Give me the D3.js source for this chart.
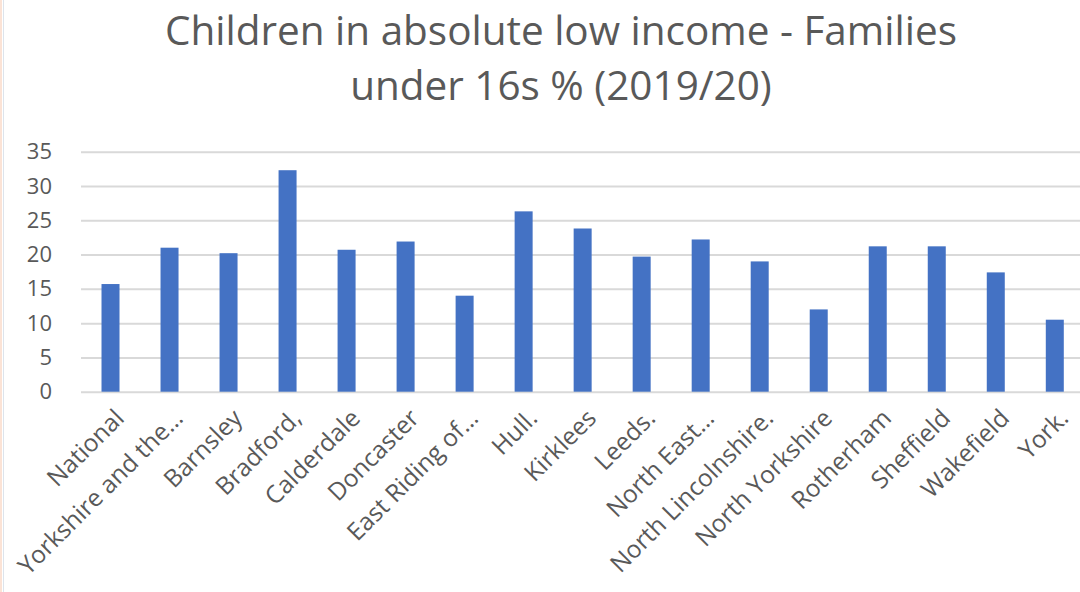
<!DOCTYPE html>
<html>
<head>
<meta charset="utf-8">
<script src="https://cdn.jsdelivr.net/npm/d3@7"></script>
<style>
  html, body { margin: 0; padding: 0; background: #ffffff; }
  svg { display: block; }
</style>
</head>
<body>
<svg id="chart" width="1080" height="592"></svg>
<script>
const titleLines = ["Children in absolute low income - Families", "under 16s % (2019/20)"];
const categories = ["National", "Yorkshire and the…", "Barnsley", "Bradford,", "Calderdale", "Doncaster",
  "East Riding of…", "Hull.", "Kirklees", "Leeds.", "North East…", "North Lincolnshire.",
  "North Yorkshire", "Rotherham", "Sheffield", "Wakefield", "York."];
const values = [15.7, 21.0, 20.2, 32.3, 20.7, 21.9, 14.0, 26.3, 23.8, 19.7, 22.2, 19.0, 12.0, 21.2, 21.2, 17.4, 10.5];
const yTicks = [0, 5, 10, 15, 20, 25, 30, 35];

const FONT = "'Open Sans', 'Noto Sans', sans-serif";
const TEXT = "#595959";
const svg = d3.select("#chart");

svg.append("rect").attr("x", 0).attr("y", 0).attr("width", 1080).attr("height", 592).attr("fill", "#ffffff");
svg.append("rect").attr("x", 0).attr("y", 0).attr("width", 2).attr("height", 592).attr("fill", "#fbe3d6");
svg.append("rect").attr("x", 3).attr("y", 0).attr("width", 1).attr("height", 592).attr("fill", "#dde4ec");

const plotLeft = 81, plotRight = 1084.3, y0 = 391.7, yTop = 151.7;
const x = d3.scaleBand().domain(categories).range([plotLeft, plotRight]).paddingInner(0.695).paddingOuter(0.3475);
const y = d3.scaleLinear().domain([0, 35]).range([y0, yTop]);

// gridlines + y labels
const yAxis = svg.append("g").attr("transform", `translate(${plotLeft},0)`)
  .call(d3.axisLeft(y).tickValues(yTicks).tickSizeInner(-(1080 - plotLeft)).tickSizeOuter(0).tickPadding(29).tickFormat(d3.format("d")));
yAxis.select(".domain").remove();
yAxis.selectAll(".tick line").attr("stroke", "#d9d9d9").attr("stroke-width", 2);
yAxis.selectAll(".tick text").attr("fill", TEXT).style("font-family", FONT).style("font-size", "22px");

// bars
svg.append("g").selectAll("rect").data(values).join("rect")
  .attr("x", (d, i) => x(categories[i]))
  .attr("width", x.bandwidth())
  .attr("y", d => y(d))
  .attr("height", d => y(0) - y(d))
  .attr("fill", "#4472c4");

// x labels
const xAxis = svg.append("g").attr("transform", `translate(0,${y0})`)
  .call(d3.axisBottom(x).tickSize(0).tickPadding(0));
xAxis.select(".domain").remove();
xAxis.selectAll(".tick text")
  .attr("fill", TEXT).style("font-family", FONT).style("font-size", "24.5px")
  .attr("text-anchor", "end")
  .attr("dy", "0.35em")
  .attr("transform", "translate(9,22) rotate(-45)");

// title
const title = svg.append("g");
const baselines = [45, 100];
titleLines.forEach((t, i) => {
  title.append("text").attr("x", 561).attr("y", baselines[i]).attr("text-anchor", "middle")
    .attr("fill", TEXT).style("font-family", FONT).style("font-size", "40px").text(t);
});
const t0 = title.select("text").node();
const fs = 40 * 792 / t0.getComputedTextLength();
title.selectAll("text").style("font-size", fs + "px");
</script>
</body>
</html>
